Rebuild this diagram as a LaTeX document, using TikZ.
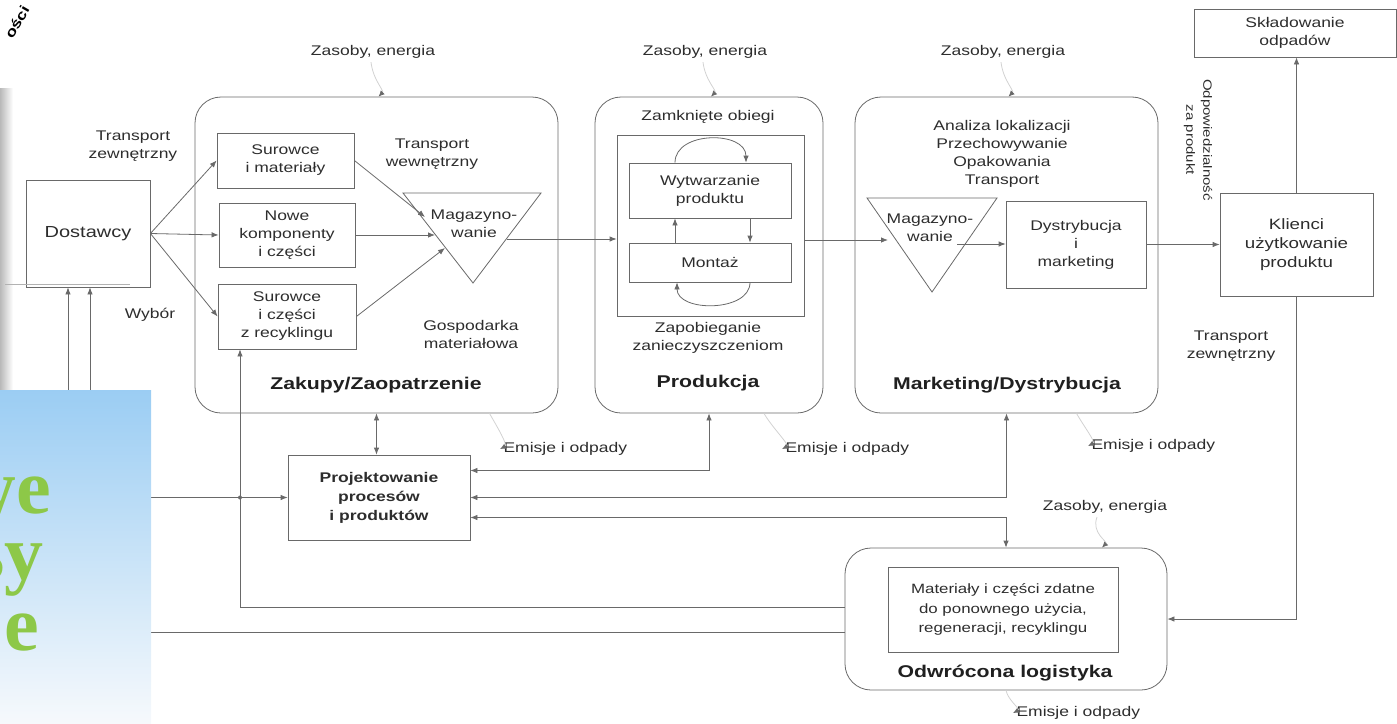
\documentclass[tikz,border=0pt]{standalone}
\usepackage{fontspec}
\setmainfont{Liberation Sans}[FakeStretch=1.25]
\newfontfamily\slidefont{Liberation Serif}
\usetikzlibrary{arrows.meta}
\definecolor{ln}{RGB}{105,105,105}
\definecolor{tx}{RGB}{45,45,45}
\definecolor{skyA}{RGB}{155,205,243}
\definecolor{skyB}{RGB}{222,237,249}
\definecolor{skyC}{RGB}{246,249,252}
\definecolor{leaf}{RGB}{141,200,72}
\begin{document}
\begin{tikzpicture}[x=1pt,y=-1pt,
  bx/.style={draw=ln, line width=0.8pt, inner sep=0pt, text=tx, align=center, font=\fontsize{14}{18}\selectfont},
  rbx/.style={draw=ln, line width=0.8pt, rounded corners=26pt, inner sep=0pt},
  lbl/.style={text=tx, align=center, font=\fontsize{14}{18}\selectfont},
  ttl/.style={text=tx!70!black, font=\fontsize{17}{20}\selectfont\bfseries},
  con/.style={draw=ln, line width=0.8pt, -{Latex[length=7pt,width=5.5pt]}},
  dcon/.style={draw=ln, line width=0.8pt, {Latex[length=7pt,width=5.5pt]}-{Latex[length=7pt,width=5.5pt]}},
  flow/.style={draw=gray!35, line width=0.8pt, -{Latex[length=6pt,width=5.5pt,color=ln]}}]
\useasboundingbox (0,0) rectangle (1397,723);
\shade[left color=gray!55, right color=white] (0,88) rectangle (13,390);
\node[rotate=60, inner sep=0pt, font=\fontsize{14}{15}\selectfont\bfseries] (osci) at (17,22) {ości};
\node[bx, minimum width=124pt, minimum height=107pt, font=\fontsize{16}{18}\selectfont] (dost) at (88,233.5) {Dostawcy};
\draw[gray!60, line width=0.8pt] (5,284) -- (130,284);
\node[lbl] (trz1) at (133,146) {Transport\\zewnętrzny};
\node[lbl] (wyb) at (150,315) {Wybór};
\node[rbx, minimum width=363pt, minimum height=316pt] (zak) at (376.5,255) {};
\node[bx, minimum width=137pt, minimum height=55pt] (surm) at (285.5,160.5) {Surowce\\i materiały};
\node[bx, minimum width=136pt, minimum height=64pt] (nowe) at (287,235) {Nowe\\komponenty\\i części};
\node[bx, minimum width=138pt, minimum height=65pt] (recy) at (287,316.5) {Surowce\\i części\\z recyklingu};
\draw[ln, line width=0.8pt] (403,193) -- (541,193) -- (473,283) -- cycle;
\node[lbl] (mag1) at (474,224) {Magazyno-\\wanie};
\coordinate (m1a) at (425,217);
\coordinate (m1b) at (435,235);
\coordinate (m1c) at (445,248);
\coordinate (m1out) at (507,239);
\node[lbl] (trw) at (432,154) {Transport\\wewnętrzny};
\node[lbl] (gosp) at (471,334) {Gospodarka\\materiałowa};
\node[ttl] (tzak) at (376,385) {Zakupy/Zaopatrzenie};
\draw[con] (dost.east) -- (surm.west);
\draw[con] (dost.east) -- (nowe.west);
\draw[con] (dost.east) -- (recy.west);
\draw[con] (surm.east) -- (m1a);
\draw[con] (nowe.east) -- (m1b);
\draw[con] (recy.east) -- (m1c);
\node[rbx, minimum width=228pt, minimum height=316pt] (prod) at (709,255) {};
\node[lbl] (zob) at (708,117) {Zamknięte obiegi};
\node[draw=ln, line width=0.8pt, minimum width=187pt, minimum height=181pt] (obieg) at (710.5,225.5) {};
\node[bx, minimum width=162pt, minimum height=55pt] (wytw) at (710,190.5) {Wytwarzanie\\produktu};
\node[bx, minimum width=162pt, minimum height=39pt] (mont) at (710,262.5) {Montaż};
\draw[con] ([xshift=-35pt]wytw.north) .. controls +(0,-32) and +(0,-32) .. ([xshift=36pt]wytw.north);
\draw[con] ([xshift=40pt]wytw.south) -- ([xshift=40pt]mont.north);
\draw[con] ([xshift=-35pt]mont.north) -- ([xshift=-35pt]wytw.south);
\draw[con] ([xshift=40pt]mont.south) .. controls +(0,30) and +(0,30) .. ([xshift=-33pt]mont.south);
\node[lbl] (zap) at (708,338) {Zapobieganie\\zanieczyszczeniom};
\node[ttl] (tprod) at (708,383) {Produkcja};
\draw[con] (m1out) -- (m1out -| obieg.west);
\node[rbx, minimum width=303pt, minimum height=316pt] (mark) at (1006.5,255) {};
\node[lbl] (anal) at (1002,153.5) {Analiza lokalizacji\\Przechowywanie\\Opakowania\\Transport};
\draw[ln, line width=0.8pt] (867,198) -- (997,198) -- (932,292) -- cycle;
\node[lbl] (mag2) at (930,228) {Magazyno-\\wanie};
\coordinate (m2in) at (888,240);
\coordinate (m2out) at (957,244);
\node[bx, minimum width=140pt, minimum height=87pt] (dyst) at (1076,244.5) {Dystrybucja\\i\\marketing};
\node[ttl] (tmark) at (1007,385) {Marketing/Dystrybucja};
\draw[con] (obieg.east |- m2in) -- (m2in);
\draw[con] (m2out) -- (m2out -| dyst.west);
\node[bx, minimum width=153pt, minimum height=103pt, font=\fontsize{15}{19}\selectfont] (klie) at (1296.5,244.5) {Klienci\\użytkowanie\\produktu};
\node[bx, minimum width=202pt, minimum height=48pt] (sklad) at (1295,33) {Składowanie\\odpadów};
\node[lbl, rotate=-90, font=\fontsize{12}{17}\selectfont] (odpow) at (1198,140) {Odpowiedzialność\\za produkt};
\node[lbl] (trz2) at (1231,346) {Transport\\zewnętrzny};
\draw[con] (dyst.east) -- (klie.west);
\draw[con] (klie.north) -- (klie.north |- sklad.south);
\node[bx, minimum width=182pt, minimum height=85pt, font=\fontsize{14}{19}\selectfont\bfseries] (proj) at (379,497.5) {Projektowanie\\procesów\\i produktów};
\node[rbx, minimum width=322pt, minimum height=142pt] (odw) at (1006,619) {};
\node[bx, minimum width=230pt, minimum height=85pt, font=\fontsize{13.5}{19.5}\selectfont] (mat) at (1003,609.5) {Materiały i części zdatne\\do ponownego użycia,\\regeneracji, recyklingu};
\node[ttl] (todw) at (1005,673) {Odwrócona logistyka};
\draw[dcon] (zak.south) -- (zak.south |- proj.north);
\draw[dcon] (prod.south) |- ([yshift=27pt]proj.east);
\draw[dcon] (mark.south) |- (proj.east);
\draw[dcon] ([yshift=-20pt]proj.east) -| (odw.north);
\draw[con] ([yshift=12pt]odw.west) -| ([xshift=-47pt]recy.south);
\draw[con] (klie.south) |- (odw.east);
\draw[dcon] ([xshift=-20pt]dost.south) |- (proj.west);
\draw[con] ([yshift=-13pt]odw.west) -| ([xshift=2pt]dost.south);
\fill[ln] (240,497.5) circle (2pt);
\node[lbl] (zas1) at (373,52) {Zasoby, energia};
\node[lbl] (zas2) at (705,52) {Zasoby, energia};
\node[lbl] (zas3) at (1003,52) {Zasoby, energia};
\node[lbl] (zas4) at (1105,507) {Zasoby, energia};
\draw[flow] ([xshift=-2pt]zas1.south) .. controls +(2,18) and +(6,-6) .. ([xshift=2pt]zak.north);
\draw[flow] ([xshift=-2pt]zas2.south) .. controls +(2,18) and +(6,-6) .. ([xshift=2pt]prod.north);
\draw[flow] ([xshift=-2pt]zas3.south) .. controls +(2,18) and +(6,-6) .. ([xshift=2pt]mark.north);
\draw[flow] ([xshift=-8pt]zas4.south) .. controls +(-6,16) and +(6,-6) .. ([xshift=96pt]odw.north);
\node[lbl, anchor=west] (emi1) at (500,449) {Emisje i odpady};
\node[lbl, anchor=west] (emi2) at (782,449) {Emisje i odpady};
\node[lbl, anchor=west] (emi3) at (1088,446) {Emisje i odpady};
\node[lbl, anchor=west] (emi4) at (1013,713) {Emisje i odpady};
\draw[flow] ([xshift=113pt]zak.south) .. controls +(8,14) and +(8,-4) .. (emi1.west);
\draw[flow] ([xshift=55pt]prod.south) .. controls +(8,14) and +(8,-4) .. (emi2.west);
\draw[flow] ([xshift=70pt]mark.south) .. controls +(8,14) and +(8,-4) .. (emi3.west);
\draw[flow] (odw.south) .. controls +(2,10) and +(8,-4) .. (emi4.west);
\shade[top color=skyA, middle color=skyB, bottom color=skyC] (0,390) rectangle (151,723);
\node[anchor=base east, inner sep=0pt, text=leaf, font=\slidefont\fontsize{78}{78}\selectfont\bfseries] (w1) at (51,513) {we};
\node[anchor=base east, inner sep=0pt, text=leaf, font=\slidefont\fontsize{78}{78}\selectfont\bfseries] (w2) at (44,579) {sy};
\node[anchor=base east, inner sep=0pt, text=leaf, font=\slidefont\fontsize{78}{78}\selectfont\bfseries] (w3) at (39,650) {e};
\end{tikzpicture}
\end{document}
